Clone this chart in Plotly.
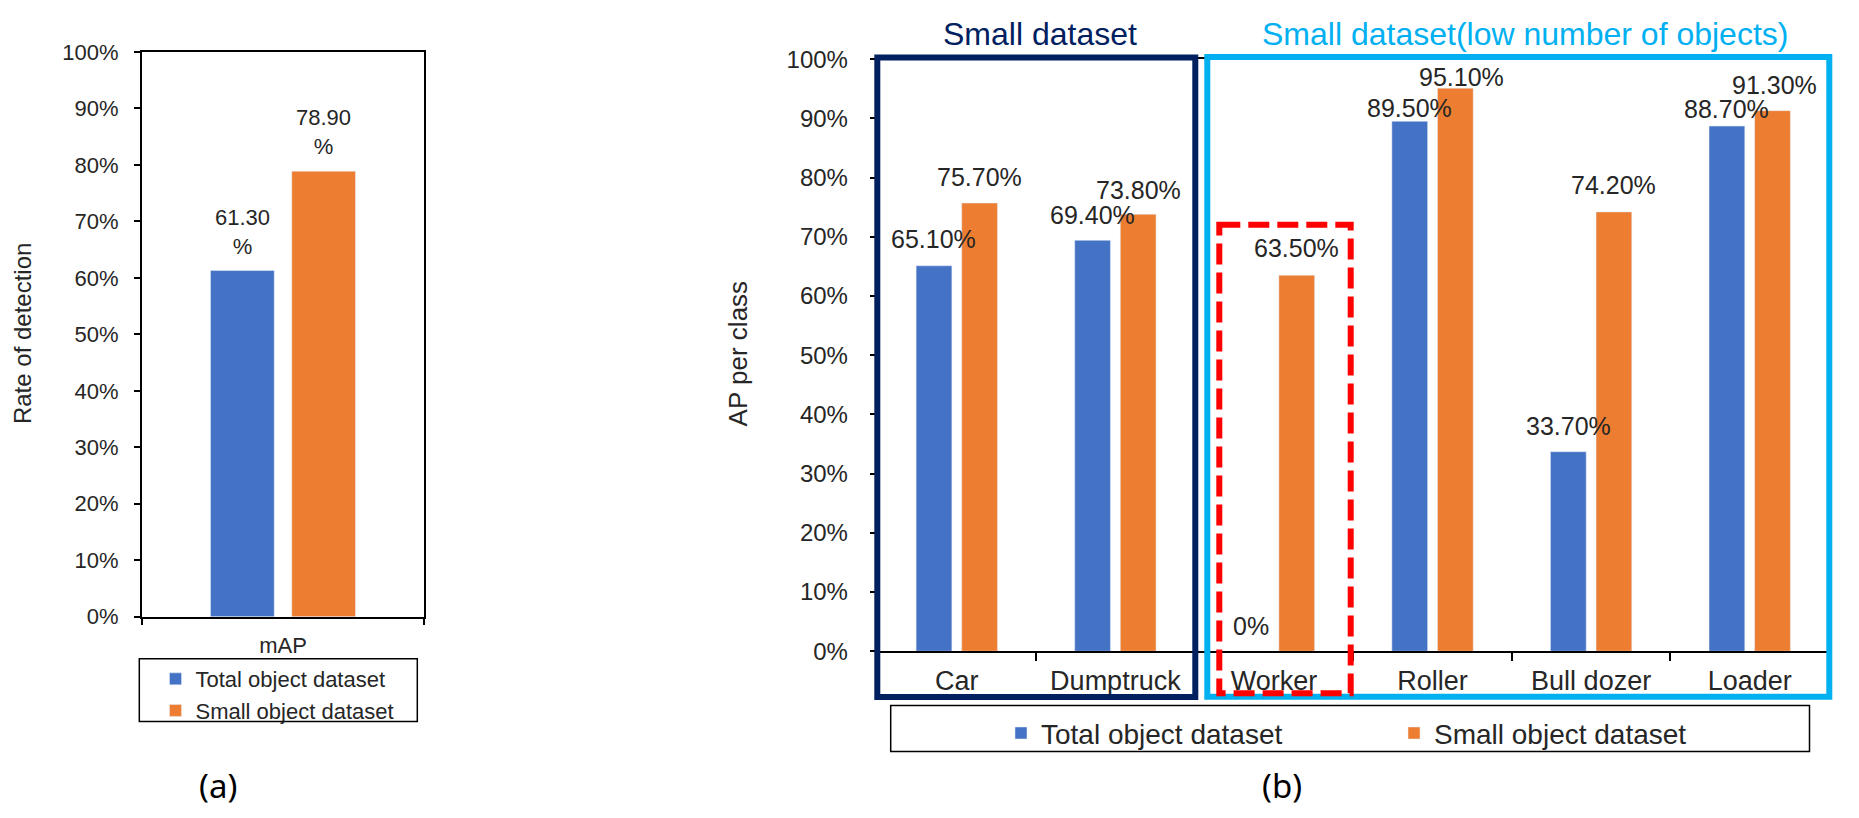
import plotly.graph_objects as go

W, H = 1859, 818

# ---------------- data ----------------
a_categories = ["mAP"]
a_total = [0.613]
a_small = [0.789]

b_categories = ["Car", "Dumptruck", "Worker", "Roller", "Bull dozer", "Loader"]
b_total = [0.651, 0.694, 0.0, 0.895, 0.337, 0.887]
b_small = [0.757, 0.738, 0.635, 0.951, 0.742, 0.913]

series_names = ["Total object dataset", "Small object dataset"]
y_ticks = [0.0, 0.1, 0.2, 0.3, 0.4, 0.5, 0.6, 0.7, 0.8, 0.9, 1.0]

group_titles = ["Small dataset", "Small dataset(low number of objects)"]
panel_labels = ["(a)", "(b)"]
a_ytitle = "Rate of detection"
b_ytitle = "AP per class"

# ---------------- style ----------------
BLUE = "#4472C4"
ORANGE = "#ED7D31"
NAVY = "#002060"
CYAN = "#00B0F0"
RED = "#FF0000"
TXT = "#262626"
FONT = "Arial, Liberation Sans, sans-serif"


def px(x):
    return x / W


def py(y):
    return 1 - y / H


def fmt_b(v):
    return "0%" if v == 0 else f"{v * 100:.2f}%"


def fmt_a(v):
    return f"{v * 100:.2f}<br>%"


fig = go.Figure()
fig.add_trace(go.Bar(x=a_categories, y=a_total, name=series_names[0], marker_color=BLUE,
                     xaxis="x", yaxis="y", legend="legend", hoverinfo="skip"))
fig.add_trace(go.Bar(x=a_categories, y=a_small, name=series_names[1], marker_color=ORANGE,
                     xaxis="x", yaxis="y", legend="legend", hoverinfo="skip"))
fig.add_trace(go.Bar(x=b_categories, y=b_total, name=series_names[0], marker_color=BLUE,
                     xaxis="x2", yaxis="y2", legend="legend2", hoverinfo="skip"))
fig.add_trace(go.Bar(x=b_categories, y=b_small, name=series_names[1], marker_color=ORANGE,
                     xaxis="x2", yaxis="y2", legend="legend2", hoverinfo="skip"))

annotations = []
# (a) data labels
for vals, dx in ((a_total, -40.6), (a_small, 40.6)):
    for c, v in zip(a_categories, vals):
        annotations.append(dict(xref="x", yref="y", x=c, y=v, xshift=dx, yshift=39,
                                text=fmt_a(v), showarrow=False, yanchor="middle",
                                font=dict(family=FONT, size=22, color=TXT)))
# (b) data labels, default lift above bar plus manual nudges like the original
lift_total = [27, 25, 25, 13.5, 26, 17]
lift_small = [26.5, 24.6, 27.7, 10.7, 27, 26]
nudge_small = [0, 0, 0, 6, 0, 2]
for i, c in enumerate(b_categories):
    annotations.append(dict(xref="x2", yref="y2", x=c, y=b_total[i], xshift=-22.8,
                            yshift=lift_total[i], text=fmt_b(b_total[i]), showarrow=False,
                            yanchor="middle", font=dict(family=FONT, size=25, color=TXT)))
    annotations.append(dict(xref="x2", yref="y2", x=c, y=b_small[i], xshift=22.8 + nudge_small[i],
                            yshift=lift_small[i], text=fmt_b(b_small[i]), showarrow=False,
                            yanchor="middle", font=dict(family=FONT, size=25, color=TXT)))

# axis titles
annotations.append(dict(xref="paper", yref="paper", x=px(22), y=py(331), text=a_ytitle,
                        textangle=-90, showarrow=False, xanchor="center", yanchor="middle",
                        font=dict(family=FONT, size=24, color=TXT)))
annotations.append(dict(xref="paper", yref="paper", x=px(738), y=py(352), text=b_ytitle,
                        textangle=-90, showarrow=False, xanchor="center", yanchor="middle",
                        font=dict(family=FONT, size=26, color=TXT)))
# group titles
annotations.append(dict(xref="paper", yref="paper", x=px(1040), y=py(21), text=group_titles[0],
                        showarrow=False, xanchor="center", yanchor="middle",
                        font=dict(family=FONT, size=32, color=NAVY)))
annotations.append(dict(xref="paper", yref="paper", x=px(1525), y=py(21), text=group_titles[1],
                        showarrow=False, xanchor="center", yanchor="middle",
                        font=dict(family=FONT, size=32, color=CYAN)))
# panel labels
annotations.append(dict(xref="paper", yref="paper", x=px(218), y=py(798), text=panel_labels[0],
                        showarrow=False, xanchor="center", yanchor="middle",
                        font=dict(family="Noto Sans, sans-serif", size=33, color="black")))
annotations.append(dict(xref="paper", yref="paper", x=px(1282), y=py(798), text=panel_labels[1],
                        showarrow=False, xanchor="center", yanchor="middle",
                        font=dict(family="Noto Sans, sans-serif", size=33, color="black")))

shapes = [
    # legend frames
    dict(type="rect", xref="paper", yref="paper", x0=px(139.3), x1=px(417.3), y0=py(666.7), y1=py(731.7),
         line=dict(color="black", width=1.5), fillcolor="rgba(0,0,0,0)"),
    dict(type="rect", xref="paper", yref="paper", x0=px(890.7), x1=px(1809.5), y0=py(715), y1=py(762.7),
         line=dict(color="black", width=1.5), fillcolor="rgba(0,0,0,0)"),
    # group boxes
    dict(type="rect", xref="paper", yref="paper", x0=px(877.3), x1=px(1195.3), y0=py(45), y1=py(706.3),
         line=dict(color=NAVY, width=6), fillcolor="rgba(0,0,0,0)"),
    dict(type="rect", xref="paper", yref="paper", x0=px(1207.3), x1=px(1829.3), y0=py(44.5), y1=py(706),
         line=dict(color=CYAN, width=6), fillcolor="rgba(0,0,0,0)"),
    dict(type="rect", xref="paper", yref="paper", x0=px(1219.3), x1=px(1350.7), y0=py(218), y1=py(702.5),
         line=dict(color=RED, width=6, dash="21px,8px"), fillcolor="rgba(0,0,0,0)"),
]

axis_common = dict(showline=True, linecolor="black", linewidth=1.5, mirror=True, showgrid=False,
                   zeroline=False, ticks="outside", tickcolor="black", tickwidth=1.5)

fig.update_layout(
    width=W, height=H,
    margin=dict(l=0, r=0, t=0, b=0),
    paper_bgcolor="white", plot_bgcolor="white",
    barmode="group", bargap=0.425, bargroupgap=0.216,
    font=dict(family=FONT, color=TXT),
    xaxis=dict(domain=[px(141.7), px(424.3)], anchor="y", type="category", tickson="boundaries",
               ticklen=7, ticklabelstandoff=8, tickfont=dict(size=22, color=TXT), **axis_common),
    yaxis=dict(domain=[py(623.3), py(39.3)], anchor="x", range=[0, 1], tickvals=y_ticks,
               tickformat=".0%", ticklen=6, ticklabelstandoff=11,
               tickfont=dict(size=22, color=TXT), **axis_common),
    xaxis2=dict(domain=[px(877.5), px(1829)], anchor="y2", type="category", tickson="boundaries",
                ticklen=8, ticklabelstandoff=5, tickfont=dict(size=27, color=TXT), **axis_common),
    yaxis2=dict(domain=[py(659), py(46.7)], anchor="x2", range=[0, 1], tickvals=y_ticks,
                tickformat=".0%", ticklen=6, ticklabelstandoff=17,
                tickfont=dict(size=24, color=TXT), **axis_common),
    legend=dict(x=px(155.5), xanchor="left", y=py(666), yanchor="top", orientation="v",
                font=dict(size=22, color=TXT, family=FONT), bgcolor="rgba(0,0,0,0)", borderwidth=0),
    legend2=dict(x=px(1001), xanchor="left", y=py(718), yanchor="top", orientation="h",
                 entrywidth=348, entrywidthmode="pixels",
                 font=dict(size=28, color=TXT, family=FONT), bgcolor="rgba(0,0,0,0)", borderwidth=0),
    annotations=annotations,
    shapes=shapes,
)

fig.write_html("out.html")
